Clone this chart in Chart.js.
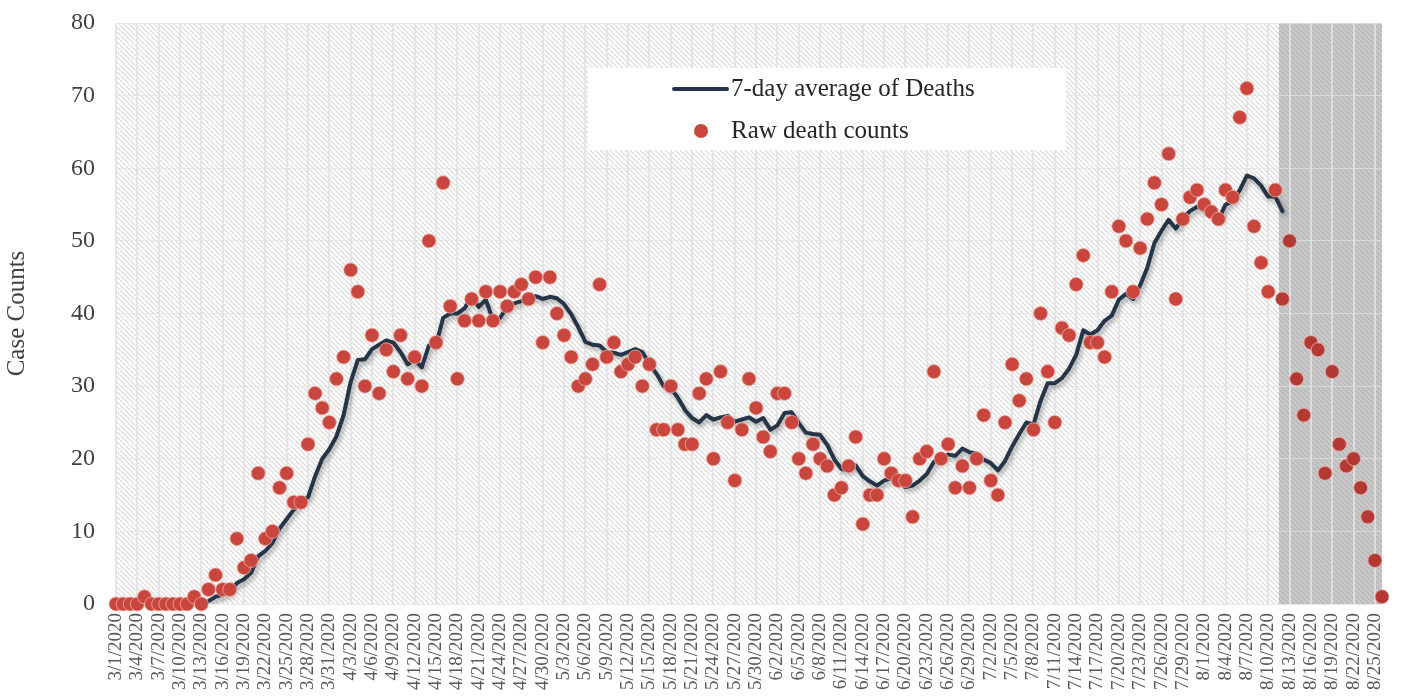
<!DOCTYPE html>
<html>
<head>
<meta charset="utf-8">
<script src="https://cdn.jsdelivr.net/npm/chart.js@4.4.1/dist/chart.umd.min.js"></script>
<style>
html,body{margin:0;padding:0;background:#ffffff;}
canvas{display:block;}
</style>
</head>
<body>
<canvas id="c" width="1405" height="698"></canvas>
<script>
// ---------------- data ----------------
const dates = [
'3/1/2020','3/2/2020','3/3/2020','3/4/2020','3/5/2020','3/6/2020','3/7/2020','3/8/2020','3/9/2020','3/10/2020',
'3/11/2020','3/12/2020','3/13/2020','3/14/2020','3/15/2020','3/16/2020','3/17/2020','3/18/2020','3/19/2020','3/20/2020',
'3/21/2020','3/22/2020','3/23/2020','3/24/2020','3/25/2020','3/26/2020','3/27/2020','3/28/2020','3/29/2020','3/30/2020','3/31/2020',
'4/1/2020','4/2/2020','4/3/2020','4/4/2020','4/5/2020','4/6/2020','4/7/2020','4/8/2020','4/9/2020','4/10/2020',
'4/11/2020','4/12/2020','4/13/2020','4/14/2020','4/15/2020','4/16/2020','4/17/2020','4/18/2020','4/19/2020','4/20/2020',
'4/21/2020','4/22/2020','4/23/2020','4/24/2020','4/25/2020','4/26/2020','4/27/2020','4/28/2020','4/29/2020','4/30/2020',
'5/1/2020','5/2/2020','5/3/2020','5/4/2020','5/5/2020','5/6/2020','5/7/2020','5/8/2020','5/9/2020','5/10/2020',
'5/11/2020','5/12/2020','5/13/2020','5/14/2020','5/15/2020','5/16/2020','5/17/2020','5/18/2020','5/19/2020','5/20/2020',
'5/21/2020','5/22/2020','5/23/2020','5/24/2020','5/25/2020','5/26/2020','5/27/2020','5/28/2020','5/29/2020','5/30/2020','5/31/2020',
'6/1/2020','6/2/2020','6/3/2020','6/4/2020','6/5/2020','6/6/2020','6/7/2020','6/8/2020','6/9/2020','6/10/2020',
'6/11/2020','6/12/2020','6/13/2020','6/14/2020','6/15/2020','6/16/2020','6/17/2020','6/18/2020','6/19/2020','6/20/2020',
'6/21/2020','6/22/2020','6/23/2020','6/24/2020','6/25/2020','6/26/2020','6/27/2020','6/28/2020','6/29/2020','6/30/2020',
'7/1/2020','7/2/2020','7/3/2020','7/4/2020','7/5/2020','7/6/2020','7/7/2020','7/8/2020','7/9/2020','7/10/2020',
'7/11/2020','7/12/2020','7/13/2020','7/14/2020','7/15/2020','7/16/2020','7/17/2020','7/18/2020','7/19/2020','7/20/2020',
'7/21/2020','7/22/2020','7/23/2020','7/24/2020','7/25/2020','7/26/2020','7/27/2020','7/28/2020','7/29/2020','7/30/2020','7/31/2020',
'8/1/2020','8/2/2020','8/3/2020','8/4/2020','8/5/2020','8/6/2020','8/7/2020','8/8/2020','8/9/2020','8/10/2020',
'8/11/2020','8/12/2020','8/13/2020','8/14/2020','8/15/2020','8/16/2020','8/17/2020','8/18/2020','8/19/2020','8/20/2020',
'8/21/2020','8/22/2020','8/23/2020','8/24/2020','8/25/2020','8/26/2020'
];

const rawDeaths = [
0,0,0,0,1,0,0,0,0,0,
0,1,0,2,4,2,2,9,5,6,
18,9,10,16,18,14,14,22,29,27,
25,31,34,46,43,30,37,29,35,32,
37,31,34,30,50,36,58,41,31,39,
42,39,43,39,43,41,43,44,42,45,
36,45,40,37,34,30,31,33,44,34,
36,32,33,34,30,33,24,24,30,24,
22,22,29,31,20,32,25,17,24,31,
27,23,21,29,29,25,20,18,22,20,
19,15,16,19,23,11,15,15,20,18,
17,17,12,20,21,32,20,22,16,19,
16,20,26,17,15,25,33,28,31,24,
40,32,25,38,37,44,48,36,36,34,
43,52,50,43,49,53,58,55,62,42,
53,56,57,55,54,53,57,56,67,71,
52,47,43,57,42,50,31,26,36,35,
18,32,22,19,20,16,12,6,1
];

const avgDeaths = [
null,null,null,null,null,null,0.1,0.1,0.1,0.1,
0.1,0.1,0.1,0.4,1.0,1.3,1.6,2.9,3.4,4.3,
6.6,7.3,8.4,10.4,11.7,13.0,14.1,14.7,17.6,20.0,
21.3,23.1,26.0,30.6,33.6,33.7,35.1,35.7,36.3,36.0,
34.7,33.0,33.6,32.6,35.6,35.7,39.4,40.0,40.0,40.7,
42.4,40.9,41.9,39.1,39.4,40.9,41.4,41.7,42.1,42.4,
42.0,42.3,42.1,41.3,39.9,38.1,36.1,35.7,35.6,34.7,
34.6,34.3,34.7,35.1,34.7,33.1,31.7,30.0,29.7,28.4,
26.7,25.6,25.0,26.0,25.4,25.7,25.9,25.1,25.4,25.7,
25.1,25.6,24.0,24.6,26.3,26.4,24.9,23.6,23.4,23.3,
21.9,19.9,18.6,18.4,19.1,17.6,16.9,16.3,17.0,17.3,
17.0,16.1,16.3,17.0,17.9,19.6,19.9,20.6,20.4,21.4,
20.9,20.7,19.9,19.4,18.4,19.7,21.7,23.4,25.0,24.7,
28.0,30.4,30.4,31.1,32.4,34.3,37.7,37.1,37.7,39.0,
39.7,41.9,42.7,42.0,43.9,46.3,49.7,51.4,52.9,51.7,
53.1,54.1,54.7,54.3,54.1,52.9,55.0,55.4,57.0,59.0,
58.6,57.6,56.1,56.1,54.1,null,null,null,null,null,
null,null,null,null,null,null,null,null,null
];

const yTickValues = [0,10,20,30,40,50,60,70,80];
const seriesNames = ['7-day average of Deaths', 'Raw death counts'];
const yAxisTitle = 'Case Counts';
const shadedFromDate = '8/12/2020';

// ---------------- styles ----------------
const FONT = "'Liberation Serif', 'Times New Roman', serif";
const LINE_COLOR = '#253447';
const DOT_COLOR = '#c8463d';
const DOT_COLOR_SHADED = '#b23a33';
Chart.defaults.font.family = FONT;

function hatchTile(bg, fg, p, lw) {
  const c = document.createElement('canvas');
  c.width = p; c.height = p;
  const g = c.getContext('2d');
  g.fillStyle = bg; g.fillRect(0, 0, p, p);
  g.strokeStyle = fg; g.lineWidth = lw;
  g.beginPath();
  for (const k of [-p, 0, p]) { g.moveTo(k, 0); g.lineTo(k + p, p); }
  g.stroke();
  return c;
}

const shadedIndex = dates.indexOf(shadedFromDate);

const backgroundPlugin = {
  id: 'hatchBackground',
  beforeDraw(chart) {
    const { ctx, chartArea: a } = chart;
    ctx.save();
    ctx.fillStyle = ctx.createPattern(hatchTile('#ffffff', '#d8d8d8', 5, 1.2), 'repeat');
    ctx.fillRect(a.left, a.top, a.right - a.left, a.bottom - a.top);
    const x0 = chart.scales.x.getPixelForValue(shadedIndex - 0.5);
    ctx.fillStyle = ctx.createPattern(hatchTile('#cacaca', '#b6b6b6', 5, 1.3), 'repeat');
    ctx.fillRect(x0, a.top, a.right - x0, a.bottom - a.top);
    ctx.restore();
  }
};

const shadowPlugin = {
  id: 'lineShadow',
  beforeDatasetDraw(chart, args) {
    if (args.index !== 1) return;
    const ctx = chart.ctx;
    ctx.save();
    ctx.shadowColor = 'rgba(0,0,0,0.35)';
    ctx.shadowBlur = 5;
    ctx.shadowOffsetX = 2;
    ctx.shadowOffsetY = 3;
  },
  afterDatasetDraw(chart, args) {
    if (args.index === 1) chart.ctx.restore();
  }
};

const legendPlugin = {
  id: 'boxLegend',
  afterDraw(chart) {
    const ctx = chart.ctx;
    ctx.save();
    ctx.fillStyle = '#ffffff';
    ctx.fillRect(588, 68, 478, 82);
    ctx.strokeStyle = LINE_COLOR;
    ctx.lineWidth = 4;
    ctx.lineCap = 'round';
    ctx.beginPath(); ctx.moveTo(674, 89); ctx.lineTo(727, 89); ctx.stroke();
    ctx.fillStyle = DOT_COLOR;
    ctx.beginPath(); ctx.arc(701, 131, 7, 0, Math.PI * 2); ctx.fill();
    ctx.fillStyle = '#262626';
    ctx.font = "25px " + FONT;
    ctx.textBaseline = 'middle';
    ctx.textAlign = 'left';
    ctx.fillText(chart.data.datasets[1].label, 731, 89);
    ctx.fillText(chart.data.datasets[0].label, 731, 131);
    ctx.restore();
  }
};

new Chart(document.getElementById('c'), {
  type: 'line',
  data: {
    labels: dates,
    datasets: [
      {
        label: seriesNames[1],
        data: rawDeaths,
        showLine: false,
        pointRadius: 7,
        pointHoverRadius: 7,
        pointBackgroundColor: (c) => c.dataIndex >= shadedIndex ? DOT_COLOR_SHADED : DOT_COLOR,
        pointBorderColor: 'rgba(240,175,165,0.8)',
        pointBorderWidth: 1,
        clip: false
      },
      {
        label: seriesNames[0],
        data: avgDeaths,
        borderColor: LINE_COLOR,
        borderWidth: 4,
        pointRadius: 0,
        tension: 0,
        borderJoinStyle: 'round',
        borderCapStyle: 'round',
        spanGaps: false
      }
    ]
  },
  options: {
    responsive: false,
    animation: false,
    devicePixelRatio: 1,
    layout: { padding: { top: 23, right: 23, left: 0, bottom: 0 } },
    plugins: { legend: { display: false }, tooltip: { enabled: false } },
    scales: {
      x: {
        type: 'category',
        offset: false,
        border: { display: false },
        grid: {
          drawTicks: false,
          lineWidth: 2,
          color: (c) => (c.index % 3 === 0 ? 'rgba(226,226,226,0.85)' : 'rgba(0,0,0,0)')
        },
        ticks: {
          autoSkip: false,
          maxRotation: 90,
          minRotation: 90,
          padding: 9,
          color: '#595959',
          font: { size: 19, family: FONT },
          callback: (v, i) => (i % 3 === 0 ? dates[i] : '')
        },
        afterFit: (s) => { s.height = 94; s.paddingLeft = 0; s.paddingRight = 0; }
      },
      y: {
        min: 0,
        max: 80,
        border: { display: false },
        grid: { drawTicks: false, color: 'rgba(226,226,226,0.75)', lineWidth: 1 },
        afterBuildTicks: (s) => { s.ticks = yTickValues.map(v => ({ value: v })); },
        ticks: {
          padding: 21,
          color: '#404040',
          font: { size: 24, family: FONT }
        },
        title: {
          display: true,
          text: yAxisTitle,
          color: '#404040',
          font: { size: 25, family: FONT },
          padding: { top: 2, bottom: 0 }
        },
        afterFit: (s) => { s.width = 116; s.paddingTop = 0; s.paddingBottom = 0; }
      }
    }
  },
  plugins: [backgroundPlugin, shadowPlugin, legendPlugin]
});
</script>
</body>
</html>
